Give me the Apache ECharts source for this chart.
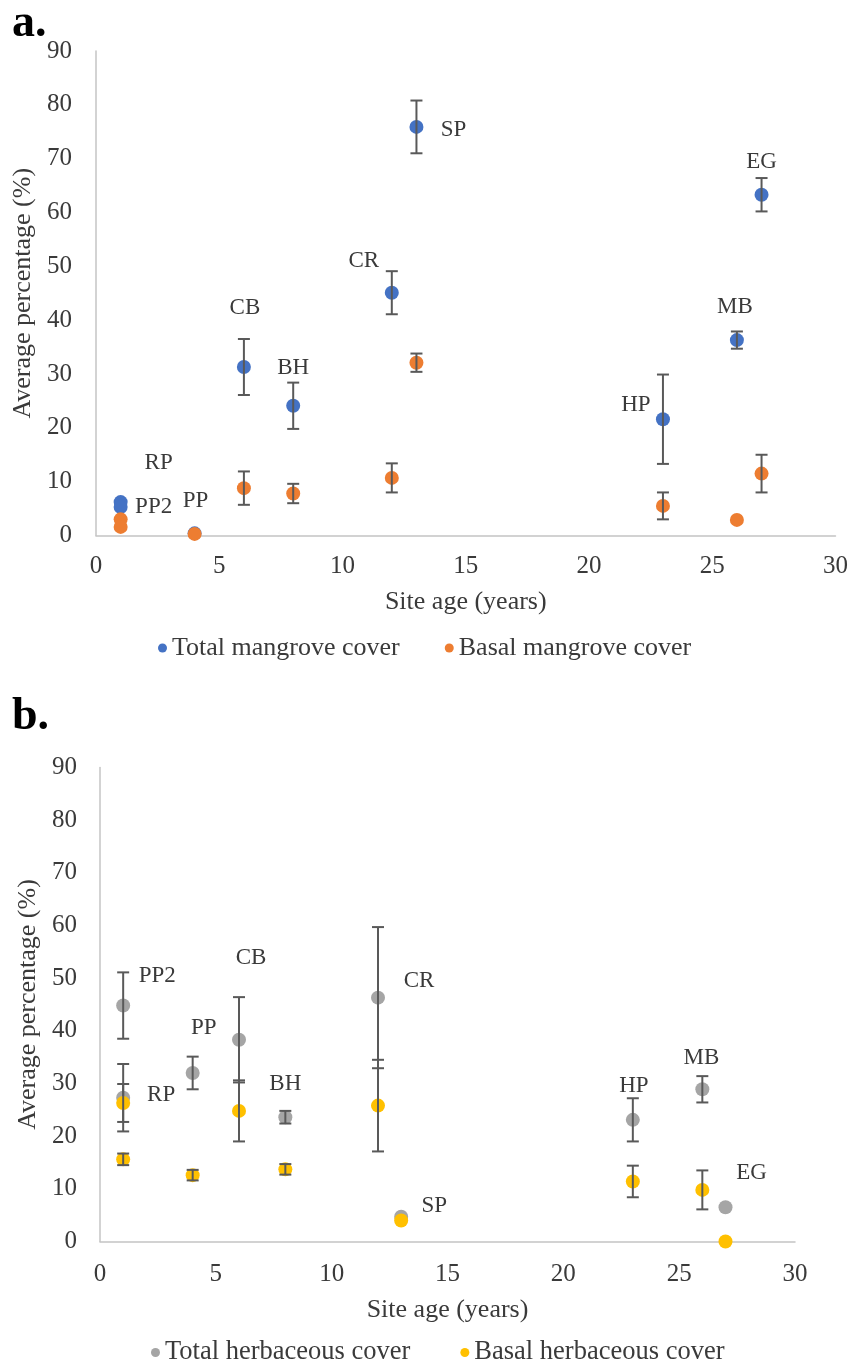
<!DOCTYPE html>
<html>
<head>
<meta charset="utf-8">
<script src="https://cdn.jsdelivr.net/npm/echarts@6/dist/echarts.min.js"></script>
<style>
  html, body { margin: 0; padding: 0; background: #ffffff; }
  #chart { width: 851px; height: 1364px; }
</style>
</head>
<body>
<div id="chart"></div>
<script>
// Restoration sites and their age (years since planting)
const sites = ['RP', 'PP2', 'PP', 'CB', 'BH', 'CR', 'SP', 'HP', 'MB', 'EG'];
const siteAge = [1, 1, 4, 6, 8, 12, 13, 23, 26, 27];

// Axis ticks
const xTicks = [0, 5, 10, 15, 20, 25, 30];
const yTicks = [0, 10, 20, 30, 40, 50, 60, 70, 80, 90];

// Panel a: mangrove cover (%), mean and error
const totalMangrove    = [6.2, 5.3, 0.4, 31.3, 24.1, 45.1, 75.9, 21.6, 36.3, 63.3];
const totalMangroveErr = [0, 0, 0, 5.2, 4.3, 4.0, 4.9, 8.3, 1.6, 3.1];
const basalMangrove    = [3.0, 1.6, 0.3, 8.8, 7.8, 10.7, 32.1, 5.5, 2.9, 11.5];
const basalMangroveErr = [0, 0, 0, 3.1, 1.8, 2.7, 1.7, 2.5, 0, 3.5];

// Panel b: herbaceous cover (%), mean and error
const totalHerb    = [27.3, 44.8, 32.0, 38.3, 23.6, 46.3, 4.7, 23.1, 28.9, 6.5];
const totalHerbErr = [6.4, 6.3, 3.1, 8.1, 1.2, 13.4, 0, 4.1, 2.5, 0];
const basalHerb    = [26.3, 15.6, 12.6, 24.8, 13.7, 25.8, 4.0, 11.4, 9.8, 0];
const basalHerbErr = [3.6, 1.1, 1.0, 5.8, 1.0, 8.7, 0, 3.0, 3.7, 0];

// Series names
const seriesNamesA = ['Total mangrove cover', 'Basal mangrove cover'];
const seriesNamesB = ['Total herbaceous cover', 'Basal herbaceous cover'];

// Site-label placement (pixel offsets from each marker)
const labelOffsetA = [[38, -39], [33, 0], [1, -32], [1, -59], [0, -38], [-28, -32], [37, 3], [-27, -14], [-2, -33], [0, -33]];
const labelOffsetB = [[38, -3], [34, -30], [11, -45], [12, -82], [0, -33], [41, -17], [33, -11], [1, -34], [-1, -31], [26, -34]];

const FONT = 'Liberation Serif, Times New Roman, serif';
const TEXT = '#3a3a3a';
const COLORS = { blue: '#4472C4', orange: '#ED7D31', gray: '#A5A5A5', yellow: '#FFC000' };

function pointData(values, offsets) {
  return values.map((v, i) => {
    const item = { name: sites[i], value: [siteAge[i], v] };
    if (offsets) item.label = { offset: offsets[i] };
    return item;
  });
}

function errorData(values, errs) {
  return values.map((v, i) => [siteAge[i], v, errs[i]]);
}

// Vertical error bar with caps, placed through the grid's coordinate system
function renderErrorBar(params, api) {
  const x = api.value(0), y = api.value(1), e = api.value(2);
  if (!e) return null;
  const hi = api.coord([x, y + e]);
  const lo = api.coord([x, y - e]);
  const half = 6;
  const style = { stroke: '#595959', lineWidth: 2 };
  return {
    type: 'group',
    children: [
      { type: 'line', shape: { x1: hi[0], y1: hi[1], x2: lo[0], y2: lo[1] }, style },
      { type: 'line', shape: { x1: hi[0] - half, y1: hi[1], x2: hi[0] + half, y2: hi[1] }, style },
      { type: 'line', shape: { x1: lo[0] - half, y1: lo[1], x2: lo[0] + half, y2: lo[1] }, style }
    ]
  };
}

function xAxisFor(gridIndex, labelMargin, nameGap) {
  return {
    gridIndex, type: 'value',
    min: xTicks[0], max: xTicks[xTicks.length - 1], interval: xTicks[1] - xTicks[0],
    name: 'Site age (years)', nameLocation: 'middle', nameGap,
    nameTextStyle: { fontFamily: FONT, fontSize: 26, color: TEXT },
    axisLine: { show: true, onZero: false, lineStyle: { color: '#c4c4c4', width: 1.5 } },
    axisTick: { show: false },
    splitLine: { show: false },
    axisLabel: { fontFamily: FONT, fontSize: 25, color: TEXT, margin: labelMargin }
  };
}

function yAxisFor(gridIndex, labelMargin, nameGap) {
  return {
    gridIndex, type: 'value',
    min: yTicks[0], max: yTicks[yTicks.length - 1], interval: yTicks[1] - yTicks[0],
    name: 'Average percentage (%)', nameLocation: 'middle', nameGap,
    nameTextStyle: { fontFamily: FONT, fontSize: 26, color: TEXT },
    axisLine: { show: true, onZero: false, lineStyle: { color: '#c4c4c4', width: 1.5 } },
    axisTick: { show: false },
    splitLine: { show: false },
    axisLabel: { fontFamily: FONT, fontSize: 25, color: TEXT, margin: labelMargin }
  };
}

function scatterSeries(name, axisIndex, values, color, offsets, z) {
  return {
    name, type: 'scatter',
    xAxisIndex: axisIndex, yAxisIndex: axisIndex,
    symbol: 'circle', symbolSize: 14,
    itemStyle: { color, opacity: 1 },
    z,
    label: offsets ? {
      show: true, position: 'inside', formatter: '{b}',
      fontFamily: FONT, fontSize: 23, color: TEXT
    } : { show: false },
    emphasis: { disabled: true },
    data: pointData(values, offsets)
  };
}

function errorSeries(axisIndex, values, errs, z) {
  return {
    type: 'custom',
    xAxisIndex: axisIndex, yAxisIndex: axisIndex,
    renderItem: renderErrorBar,
    z,
    silent: true,
    data: errorData(values, errs)
  };
}

const chart = echarts.init(document.getElementById('chart'), null, { renderer: 'canvas' });

chart.setOption({
  backgroundColor: '#ffffff',
  animation: false,
  title: [
    { text: 'a.', left: 12, top: 1, padding: 0,
      textStyle: { fontFamily: FONT, fontWeight: 'bold', fontSize: 46, color: '#000' } },
    { text: 'b.', left: 12, top: 694, padding: 0,
      textStyle: { fontFamily: FONT, fontWeight: 'bold', fontSize: 46, color: '#000' } }
  ],
  grid: [
    { left: 96, right: 15, top: 51, height: 484.5 },
    { left: 100, right: 56, top: 767.5, height: 474 }
  ],
  xAxis: [xAxisFor(0, 18, 54), xAxisFor(1, 20, 56)],
  yAxis: [yAxisFor(0, 24, 55), yAxisFor(1, 23, 54)],
  legend: [
    {
      data: seriesNamesA, left: 153, top: 630,
      icon: 'circle', itemWidth: 9, itemHeight: 9, itemGap: 45,
      selectedMode: false,
      textStyle: { fontFamily: FONT, fontSize: 26, color: TEXT }
    },
    {
      data: seriesNamesB, left: 146, top: 1334,
      icon: 'circle', itemWidth: 9, itemHeight: 9, itemGap: 50,
      selectedMode: false,
      textStyle: { fontFamily: FONT, fontSize: 26.5, color: TEXT }
    }
  ],
  series: [
    scatterSeries(seriesNamesA[0], 0, totalMangrove, COLORS.blue, labelOffsetA, 2),
    errorSeries(0, totalMangrove, totalMangroveErr, 3),
    scatterSeries(seriesNamesA[1], 0, basalMangrove, COLORS.orange, null, 4),
    errorSeries(0, basalMangrove, basalMangroveErr, 5),

    scatterSeries(seriesNamesB[0], 1, totalHerb, COLORS.gray, labelOffsetB, 2),
    errorSeries(1, totalHerb, totalHerbErr, 3),
    scatterSeries(seriesNamesB[1], 1, basalHerb, COLORS.yellow, null, 4),
    errorSeries(1, basalHerb, basalHerbErr, 5)
  ]
});
</script>
</body>
</html>
